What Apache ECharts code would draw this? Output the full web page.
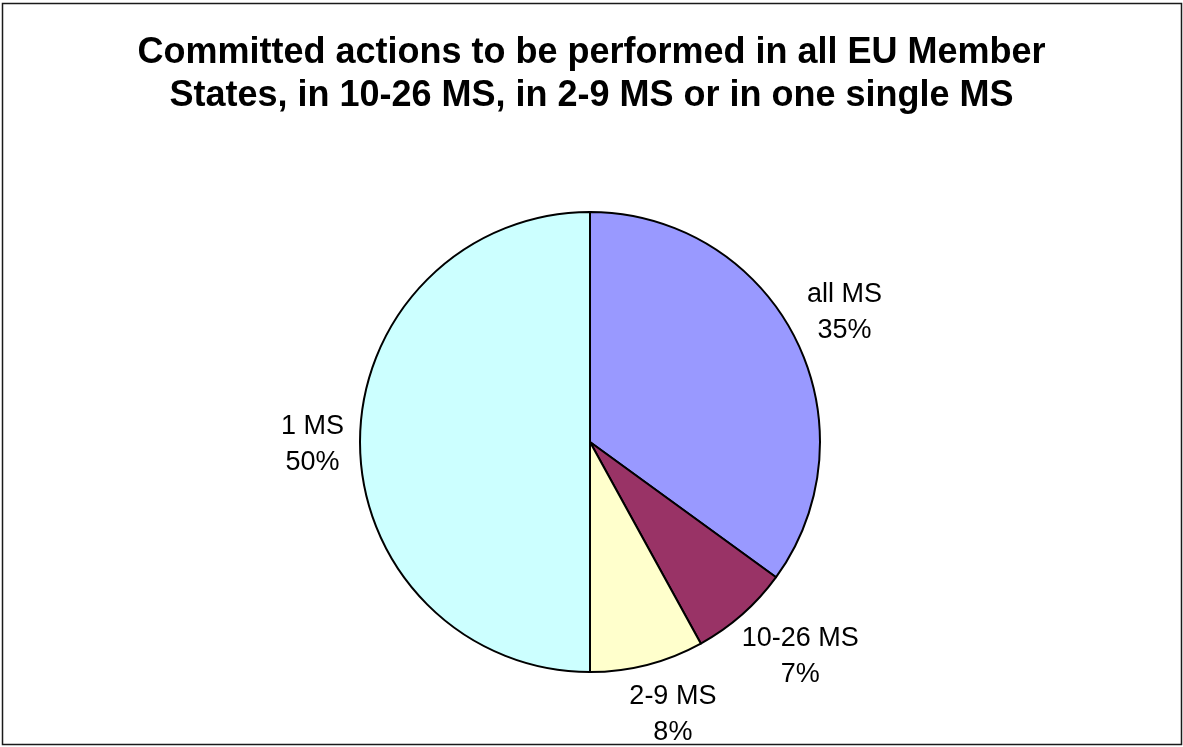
<!DOCTYPE html>
<html>
<head>
<meta charset="utf-8">
<script src="https://cdn.jsdelivr.net/npm/echarts@6/dist/echarts.min.js"></script>
<style>
  html, body { margin: 0; padding: 0; background: #fff; }
  #chart { width: 1183px; height: 747px; }
</style>
</head>
<body>
<div id="chart"></div>
<script>
// Share of committed actions by geographic reach
const categories = ['all MS', '10-26 MS', '2-9 MS', '1 MS'];
const shares = [35, 7, 8, 50];
const sliceColors = ['#9999FF', '#993366', '#FFFFCC', '#CCFFFF'];
const titleText = 'Committed actions to be performed in all EU Member\nStates, in 10-26 MS, in 2-9 MS or in one single MS';

const FONT = '"Liberation Sans", Arial, Helvetica, sans-serif';
const PIE_CX = 590, PIE_CY = 442, PIE_R = 230;
const LABEL_SIZE = 27, LABEL_LH = 36, LABEL_GAP = 16, LABEL_DROP = 3;

const total = shares.reduce((a, b) => a + b, 0);
// mid angle (radians, clockwise from 12 o'clock) of each slice
const midAngles = [];
let acc = 0;
shares.forEach(v => {
  midAngles.push(2 * Math.PI * (acc + v / 2) / total);
  acc += v;
});

// softened sign: pushes the label box away from the pie along its quadrant
const soft = t => Math.sign(t) * Math.sqrt(Math.abs(t));

const chart = echarts.init(document.getElementById('chart'), null, { renderer: 'canvas' });

chart.setOption({
  backgroundColor: '#ffffff',
  animation: false,
  title: {
    text: titleText,
    left: 'center',
    top: 27,
    textStyle: {
      fontFamily: FONT,
      fontSize: 36,
      fontWeight: 'bold',
      color: '#000',
      lineHeight: 43,
      align: 'center'
    }
  },
  graphic: [{
    type: 'rect',
    shape: { x: 2.5, y: 3.5, width: 1179, height: 741 },
    style: { fill: null, stroke: '#1a1a1a', lineWidth: 1.5 },
    silent: true,
    z: 100
  }],
  series: [{
    type: 'pie',
    center: [PIE_CX, PIE_CY],
    radius: PIE_R,
    startAngle: 90,
    clockwise: true,
    avoidLabelOverlap: false,
    percentPrecision: 0,
    itemStyle: { borderColor: '#000', borderWidth: 2 },
    emphasis: { disabled: true },
    label: {
      show: true,
      position: 'outside',
      formatter: '{b}\n{d}%',
      fontFamily: FONT,
      fontSize: LABEL_SIZE,
      lineHeight: LABEL_LH,
      color: '#000'
    },
    labelLine: { show: false },
    labelLayout: function (p) {
      const a = midAngles[p.dataIndex];
      const dx = Math.sin(a), dy = -Math.cos(a);
      const w = p.labelRect.width;
      const h = p.labelRect.height - (LABEL_LH - LABEL_SIZE);
      const d = PIE_R + LABEL_GAP;
      return {
        x: PIE_CX + dx * d + soft(dx) * w / 2,
        y: PIE_CY + dy * d + soft(dy) * h / 2 + LABEL_DROP,
        align: 'center',
        verticalAlign: 'middle'
      };
    },
    data: categories.map((name, i) => ({
      name: name,
      value: shares[i],
      itemStyle: { color: sliceColors[i] }
    }))
  }]
});
</script>
</body>
</html>
